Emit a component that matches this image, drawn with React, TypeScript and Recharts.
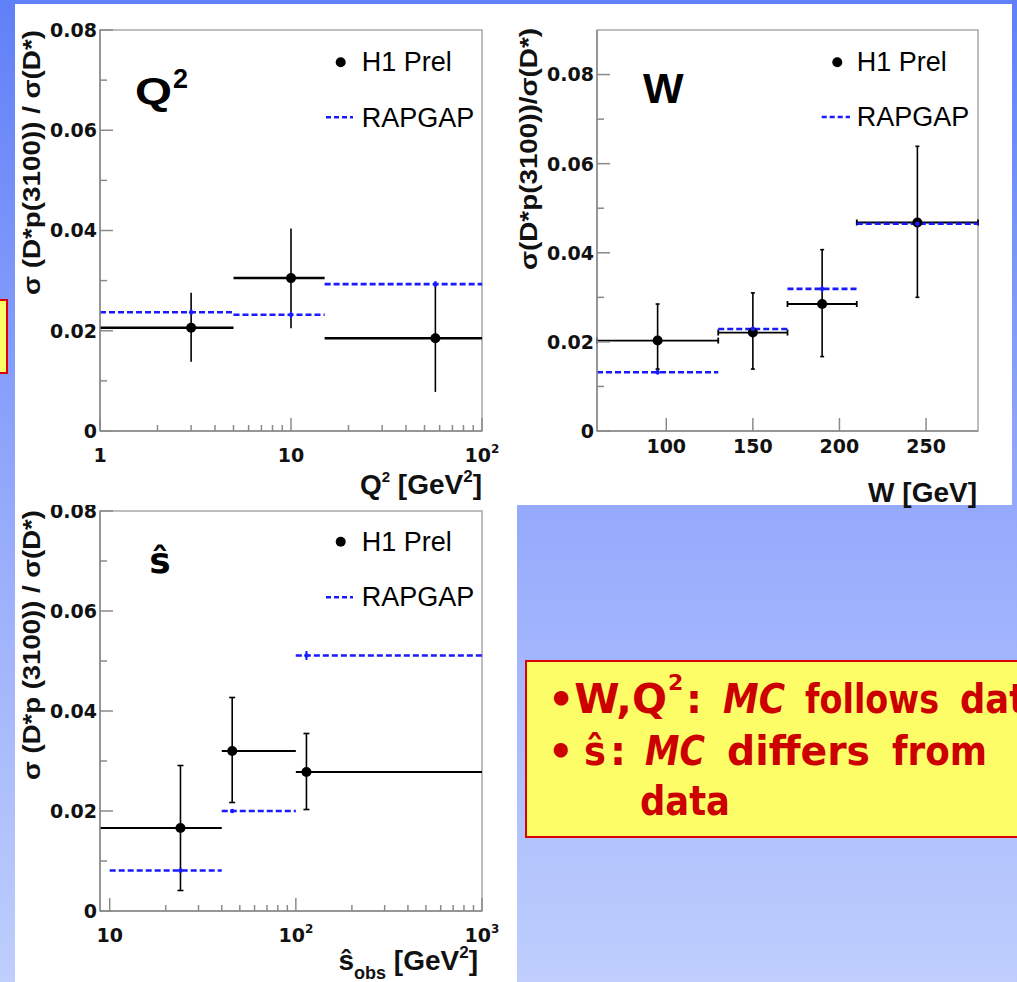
import React from 'react';
import { ComposedChart, Scatter, ErrorBar, XAxis, YAxis, ReferenceArea, Legend } from 'recharts';

// ---------------- Q² panel ----------------
const q2Centers = [3, 10, 57];
const q2BinLow = [1, 5, 15];
const q2BinHigh = [5, 15, 100];
const q2Values = [0.0206, 0.0305, 0.0185];
const q2ErrUp = [0.007, 0.0099, 0.0108];
const q2ErrDown = [0.0068, 0.01, 0.0107];
const q2Mc = [0.0237, 0.0232, 0.0293];
const q2McErr = [0.0006, 0.0006, 0.0006];
const q2XTicks = [1, 2, 3, 4, 5, 6, 7, 8, 9, 10, 20, 30, 40, 50, 60, 70, 80, 90, 100];
const q2XMajor = [1, 10, 100];
const q2XLabels = ['1', '10', '10^2'];

// ---------------- W panel ----------------
const wCenters = [95, 150, 190, 245];
const wBinLow = [60, 130, 170, 210];
const wBinHigh = [130, 170, 210, 280];
const wValues = [0.0203, 0.0221, 0.0285, 0.0468];
const wErrUp = [0.0082, 0.0089, 0.0122, 0.0171];
const wErrDown = [0.0064, 0.0082, 0.0118, 0.0168];
const wMc = [0.0132, 0.0229, 0.0319, 0.0465];
const wMcErr = [0.0005, 0.0006, 0.0007, 0.0008];
const wXTicks = [100, 150, 200, 250];
const wXMajor = [100, 150, 200, 250];
const wXLabels = ['100', '150', '200', '250'];

// ---------------- ŝ panel ----------------
const sCenters = [24, 45.5, 114];
const sBinLow = [8.87, 40, 100];
const sMcBinLow = [10, 40, 100];
const sBinHigh = [40, 100, 1000];
const sValues = [0.0166, 0.032, 0.0278];
const sErrUp = [0.0125, 0.0107, 0.0077];
const sErrDown = [0.0125, 0.0103, 0.0075];
const sMc = [0.0081, 0.02, 0.0511];
const sMcErr = [0.0004, 0.0004, 0.0009];
const sXTicks = [10, 20, 30, 40, 50, 60, 70, 80, 90, 100, 200, 300, 400, 500, 600, 700, 800, 900, 1000];
const sXMajor = [10, 100, 1000];
const sXLabels = ['10', '10^2', '10^3'];

// ---------------- shared y axis ----------------
const yTicks = [0, 0.01, 0.02, 0.03, 0.04, 0.05, 0.06, 0.07, 0.08];
const yLabels = ['0', '', '0.02', '', '0.04', '', '0.06', '', '0.08'];

const legendLabels = ['H1 Prel', 'RAPGAP'];

const ARIAL = "'Liberation Sans', Arial, Helvetica, sans-serif";
const DEJAVU = "'DejaVu Sans', Verdana, sans-serif";
const AXIS_GRAY = '#8a8a8a';
const MC_BLUE = '#1a1aff';

type Row = { x: number; y: number; ex: number[]; ey: number[] };

const buildRows = (
  centers: number[], lo: number[], hi: number[], vals: number[], down: number[], up: number[]
): Row[] =>
  centers.map((c, i) => ({ x: c, y: vals[i], ex: [c - lo[i], hi[i] - c], ey: [down[i], up[i]] }));

const renderLabel = (s: string) => {
  const parts = s.split('^');
  if (parts.length === 1) return s;
  return (
    <>
      {parts[0]}
      <tspan dy={-9} fontSize={12}>{parts[1]}</tspan>
    </>
  );
};

const makeXTick = (majors: number[], labels: string[], labelDy: number) => (props: any) => {
  const { x, y, payload } = props;
  const v = payload.value;
  const mi = majors.indexOf(v);
  const isMajor = mi >= 0;
  return (
    <g>
      <line x1={x} x2={x} y1={y} y2={y - (isMajor ? 13 : 6)} stroke={AXIS_GRAY} strokeWidth={1.5} />
      {isMajor && (
        <text x={x} y={y + labelDy} textAnchor="middle" fontFamily={DEJAVU} fontWeight="bold" fontSize={19} fill="#111">
          {renderLabel(labels[mi])}
        </text>
      )}
    </g>
  );
};

const YTick = (props: any) => {
  const { x, y, payload } = props;
  const idx = yTicks.indexOf(payload.value);
  const lab = idx >= 0 ? yLabels[idx] : '';
  const isMajor = lab !== '';
  return (
    <g>
      <line x1={x} x2={x + (isMajor ? 13 : 7)} y1={y} y2={y} stroke={AXIS_GRAY} strokeWidth={1.5} />
      {isMajor && (
        <text x={x - 3} y={y} dy="0.36em" textAnchor="end" fontFamily={DEJAVU} fontWeight="bold" fontSize={19} fill="#111">
          {lab}
        </text>
      )}
    </g>
  );
};

type LegendPos = { dotX: number; dotY: number; textX: number; text1Y: number; lineX1: number; lineX2: number; lineY: number; text2Y: number };

const makeLegend = (p: LegendPos) => () => (
  <svg width={180} height={110} style={{ display: 'block' }}>
    <circle cx={p.dotX} cy={p.dotY} r={5} fill="#000" />
    <text x={p.textX} y={p.text1Y} fontFamily={ARIAL} fontSize={27} fill="#000">{legendLabels[0]}</text>
    <line x1={p.lineX1} x2={p.lineX2} y1={p.lineY} y2={p.lineY} stroke={MC_BLUE} strokeWidth={2.5} strokeDasharray="5 3" />
    <text x={p.textX} y={p.text2Y} fontFamily={ARIAL} fontSize={27} fill="#000">{legendLabels[1]}</text>
  </svg>
);

const DataDot = (props: any) => <circle cx={props.cx} cy={props.cy} r={5} fill="#000" />;
const McDot = (props: any) => <circle cx={props.cx} cy={props.cy} r={2.2} fill={MC_BLUE} />;

type PanelProps = {
  width: number; height: number;
  margin: { top: number; right: number; bottom: number; left: number };
  yAxisWidth: number; xAxisHeight: number;
  log: boolean; xDomain: [number, number]; yMax: number;
  xTicks: number[]; xMajor: number[]; xLabels: string[]; xLabelDy: number;
  data: Row[]; mc: Row[];
  dataBarWidth: number; capX: number; capY: number;
  legendBox: { left: number; top: number }; legend: LegendPos;
};

const Panel = (p: PanelProps) => (
  <ComposedChart width={p.width} height={p.height} margin={p.margin}>
    <XAxis
      type="number" dataKey="x" scale={p.log ? 'log' : 'linear'} domain={p.xDomain} allowDataOverflow
      ticks={p.xTicks} interval={0} tickSize={0} tickMargin={0} tickLine={false} height={p.xAxisHeight}
      axisLine={{ stroke: AXIS_GRAY, strokeWidth: 1.5 }}
      tick={makeXTick(p.xMajor, p.xLabels, p.xLabelDy)}
    />
    <YAxis
      type="number" dataKey="y" domain={[0, p.yMax]} allowDataOverflow
      ticks={yTicks} interval={0} tickSize={0} tickMargin={0} tickLine={false} width={p.yAxisWidth}
      axisLine={{ stroke: AXIS_GRAY, strokeWidth: 1.5 }}
      tick={(tp: any) => <YTick {...tp} />}
    />
    <ReferenceArea x1={p.xDomain[0]} x2={p.xDomain[1]} y1={0} y2={p.yMax} fill="none" stroke="#a8a8a8" strokeWidth={1.5} ifOverflow="visible" />
    <Scatter data={p.data} isAnimationActive={false} shape={DataDot} fill="#000">
      <ErrorBar dataKey="ex" direction="x" width={p.capX} stroke="#000" strokeWidth={p.dataBarWidth} isAnimationActive={false} />
      <ErrorBar dataKey="ey" direction="y" width={p.capY} stroke="#000" strokeWidth={1.6} isAnimationActive={false} />
    </Scatter>
    <Scatter data={p.mc} isAnimationActive={false} shape={McDot} fill={MC_BLUE}>
      <ErrorBar dataKey="ex" direction="x" width={0} stroke={MC_BLUE} strokeWidth={2.6} strokeDasharray="6 3" isAnimationActive={false} />
      <ErrorBar dataKey="ey" direction="y" width={0} stroke={MC_BLUE} strokeWidth={2} isAnimationActive={false} />
    </Scatter>
    <Legend
      layout="horizontal" verticalAlign="middle" align="center"
      content={makeLegend(p.legend)}
      wrapperStyle={{ left: p.legendBox.left, top: p.legendBox.top, width: 180, height: 110 }}
    />
  </ComposedChart>
);

const q2Data = buildRows(q2Centers, q2BinLow, q2BinHigh, q2Values, q2ErrDown, q2ErrUp);
const q2McRows = buildRows(q2Centers, q2BinLow, q2BinHigh, q2Mc, q2McErr, q2McErr);
const wData = buildRows(wCenters, wBinLow, wBinHigh, wValues, wErrDown, wErrUp);
const wMcRows = buildRows(wCenters, wBinLow, wBinHigh, wMc, wMcErr, wMcErr);
const sData = buildRows(sCenters, sBinLow, sBinHigh, sValues, sErrDown, sErrUp);
const sMcRows = buildRows(sCenters, sMcBinLow, sBinHigh, sMc, sMcErr, sMcErr);

const RED = '#cc0000';

export default function App() {
  return (
    <div style={{ position: 'absolute', left: 0, top: 0, width: 1017, height: 982, overflow: 'hidden', background: 'linear-gradient(to bottom, #6080f8 0%, #94a9fc 51%, #bfcefd 100%)' }}>
      <div style={{ position: 'absolute', left: 15, top: 4, width: 997, height: 501, background: '#fff' }} />
      <div style={{ position: 'absolute', left: 15, top: 505, width: 502, height: 477, background: '#fff' }} />

      {/* Q² chart */}
      <div style={{ position: 'absolute', left: 0, top: 0 }}>
        <Panel
          width={500} height={505} margin={{ top: 30, right: 18, bottom: 34, left: 0 }}
          yAxisWidth={100} xAxisHeight={40} log xDomain={[1, 100]} yMax={0.08}
          xTicks={q2XTicks} xMajor={q2XMajor} xLabels={q2XLabels} xLabelDy={31}
          data={q2Data} mc={q2McRows} dataBarWidth={2.5} capX={0} capY={0}
          legendBox={{ left: 320, top: 40 }}
          legend={{ dotX: 20.7, dotY: 22.3, textX: 41.7, text1Y: 30.7, lineX1: 6, lineX2: 33, lineY: 77.3, text2Y: 86.7 }}
        />
      </div>

      {/* W chart */}
      <div style={{ position: 'absolute', left: 500, top: 0 }}>
        <Panel
          width={512} height={505} margin={{ top: 30, right: 34, bottom: 34, left: 0 }}
          yAxisWidth={97} xAxisHeight={40} log={false} xDomain={[60, 280]} yMax={0.09}
          xTicks={wXTicks} xMajor={wXMajor} xLabels={wXLabels} xLabelDy={22}
          data={wData} mc={wMcRows} dataBarWidth={1.8} capX={3} capY={2}
          legendBox={{ left: 316, top: 40 }}
          legend={{ dotX: 21.3, dotY: 22.3, textX: 40.7, text1Y: 30.7, lineX1: 5.7, lineX2: 34, lineY: 77, text2Y: 86 }}
        />
      </div>

      {/* ŝ chart */}
      <div style={{ position: 'absolute', left: 0, top: 505 }}>
        <Panel
          width={517} height={477} margin={{ top: 6, right: 35, bottom: 31, left: 0 }}
          yAxisWidth={100} xAxisHeight={40} log xDomain={[8.87, 1000]} yMax={0.08}
          xTicks={sXTicks} xMajor={sXMajor} xLabels={sXLabels} xLabelDy={31}
          data={sData} mc={sMcRows} dataBarWidth={1.8} capX={0} capY={3}
          legendBox={{ left: 320, top: 15 }}
          legend={{ dotX: 20.7, dotY: 21.7, textX: 41.7, text1Y: 30.7, lineX1: 6, lineX2: 33, lineY: 77.3, text2Y: 86 }}
        />
      </div>

      {/* text overlay */}
      <svg width={1017} height={982} style={{ position: 'absolute', left: 0, top: 0, pointerEvents: 'none' }}>
        {/* small yellow box at the left edge */}
        <rect x={-10} y={300} width={17} height={73} fill="#fdfd68" stroke="#dd0000" strokeWidth={2} />

        {/* y-axis titles */}
        <text transform="rotate(-90)" x={-295} y={40} textLength={265} lengthAdjust="spacingAndGlyphs" fontFamily={ARIAL} fontWeight="bold" fontSize={23} fill="#111">σ (D*p(3100)) / σ(D*)</text>
        <text transform="rotate(-90)" x={-270} y={537} textLength={242} lengthAdjust="spacingAndGlyphs" fontFamily={ARIAL} fontWeight="bold" fontSize={23} fill="#111">σ(D*p(3100))/σ(D*)</text>
        <text transform="rotate(-90)" x={-780} y={40} textLength={270} lengthAdjust="spacingAndGlyphs" fontFamily={ARIAL} fontWeight="bold" fontSize={23} fill="#111">σ (D*p (3100)) / σ(D*)</text>

        {/* panel labels */}
        <text x={135} y={104} textLength={37} lengthAdjust="spacingAndGlyphs" fontFamily={ARIAL} fontWeight="bold" fontSize={37} fill="#000">Q</text>
        <text x={173} y={88} fontFamily={ARIAL} fontWeight="bold" fontSize={27} fill="#000">2</text>
        <text x={643} y={103} fontFamily={ARIAL} fontWeight="bold" fontSize={43} fill="#000">W</text>
        <text x={160} y={573} textAnchor="middle" fontFamily={DEJAVU} fontWeight="bold" fontSize={36} fill="#000">ŝ</text>

        {/* x-axis titles */}
        <text x={482} y={494} textAnchor="end" fontFamily={ARIAL} fontWeight="bold" fontSize={28} fill="#111">
          Q<tspan dy={-12} fontSize={15}>2</tspan><tspan dy={12}> [GeV</tspan><tspan dy={-12} fontSize={17}>2</tspan><tspan dy={12}>]</tspan>
        </text>
        <text x={977} y={502} textAnchor="end" fontFamily={ARIAL} fontWeight="bold" fontSize={28} fill="#111">W [GeV]</text>
        <text x={478} y={970} textAnchor="end" fontFamily={ARIAL} fontWeight="bold" fontSize={28} fill="#111">
          ŝ<tspan dy={9} fontSize={18}>obs</tspan><tspan dy={-9}> [GeV</tspan><tspan dy={-12} fontSize={17}>2</tspan><tspan dy={12}>]</tspan>
        </text>

        {/* yellow conclusion box */}
        <rect x={526} y={661} width={520} height={176} fill="#fdfd68" stroke="#dd0000" strokeWidth={2} />
        <g fontFamily={DEJAVU} fontWeight="bold" fontSize={40} fill={RED}>
          <text x={548} y={713} textLength={119} lengthAdjust="spacingAndGlyphs">•W,Q</text>
          <text x={668} y={690} fontSize={22}>2</text>
          <text x={686} y={713}>:</text>
          <text x={723} y={713} textLength={62} lengthAdjust="spacingAndGlyphs" fontStyle="italic">MC</text>
          <text x={805} y={713} textLength={134} lengthAdjust="spacingAndGlyphs">follows</text>
          <text x={960} y={713} textLength={90} lengthAdjust="spacingAndGlyphs">data</text>

          <text x={548} y={765}>•</text>
          <text x={584} y={765} textLength={22} lengthAdjust="spacingAndGlyphs">ŝ</text>
          <text x={610} y={765}>:</text>
          <text x={645} y={765} textLength={60} lengthAdjust="spacingAndGlyphs" fontStyle="italic">MC</text>
          <text x={727} y={765} textLength={143} lengthAdjust="spacingAndGlyphs">differs</text>
          <text x={892} y={765} textLength={95} lengthAdjust="spacingAndGlyphs">from</text>

          <text x={640} y={815} textLength={90} lengthAdjust="spacingAndGlyphs">data</text>
        </g>
      </svg>
    </div>
  );
}
